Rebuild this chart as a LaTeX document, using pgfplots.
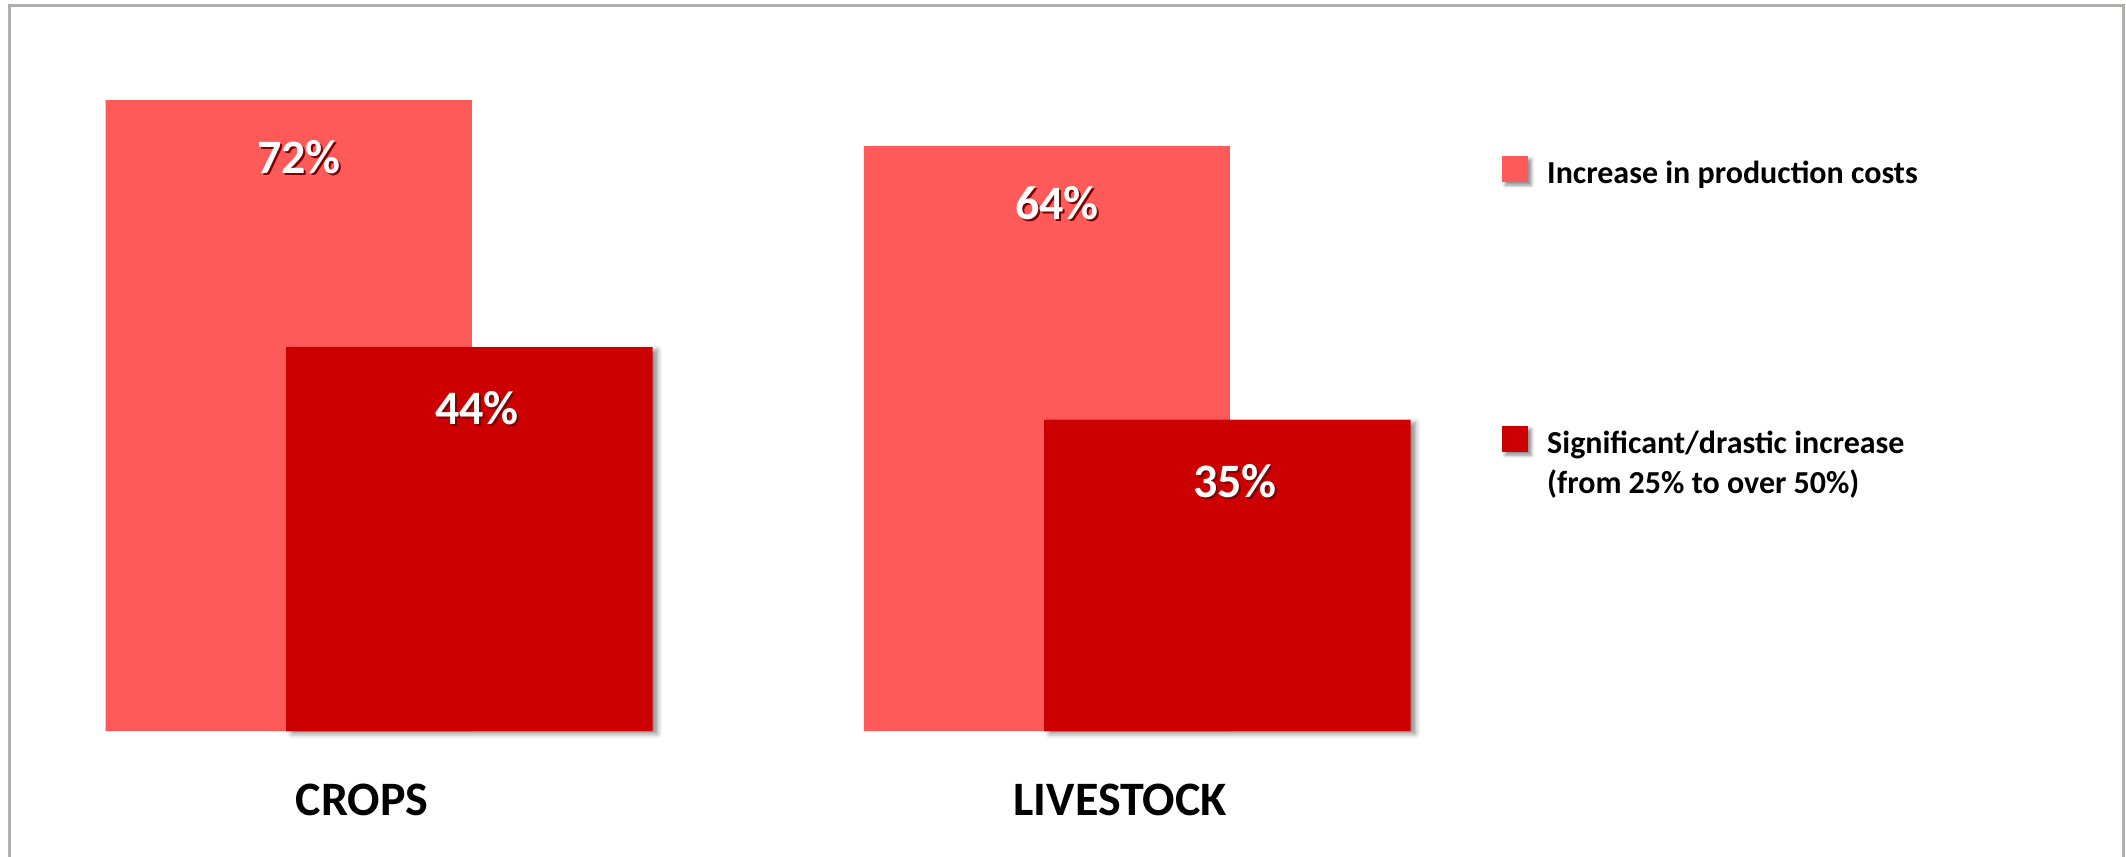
\documentclass[border=0pt]{standalone}
\usepackage{pgfplots}
\pgfplotsset{compat=1.18}
\usepackage{pgfplotstable}
\usepackage{fontspec}
\setmainfont{Carlito}
\usetikzlibrary{shadows.blur}
\definecolor{lightred}{HTML}{FF5A5A}
\definecolor{darkred}{HTML}{CC0000}
\definecolor{bordergray}{HTML}{B0ADAD}
\newcommand\shtext[1]{\leavevmode\rlap{\kern0.5pt\raisebox{-0.5pt}{\textcolor{black!35!darkred}{#1}}}\textcolor{white}{#1}}
\newcommand\lstrut{\rule[-3pt]{0pt}{10pt}}

% x: 0 = CROPS, 1 = LIVESTOCK; y = drawn bar height; label = printed value
\pgfplotstableread{
x y label
0 72 72
1 66.75 64
}\costs
\pgfplotstableread{
x y label
0 43.8 44
1 35.5 35
}\signif

\begin{document}
\begin{tikzpicture}
\useasboundingbox (0,0) rectangle (531.5pt,214pt);
\begin{axis}[
  at={(0,0)}, anchor=south west,
  scale only axis, width=531.5pt, height=214pt,
  xmin=-0.5, xmax=2.3047, ymin=-14.26, ymax=83.41,
  axis line style={draw=none}, major tick style={draw=none},
  ytick=\empty,
  xtick={0,1}, xticklabels={CROPS,LIVESTOCK},
  xticklabel style={anchor=center, yshift=14pt, xshift=-4.2pt,
    font=\fontsize{12}{14}\selectfont\bfseries},
  clip=false,
  legend cell align=left,
  legend style={at={(0.7065,0.8178)}, anchor=north west, draw=none, fill=none,
    inner sep=0pt, outer sep=0pt, row sep=0pt, column sep=4.8pt,
    font=\fontsize{8}{10}\selectfont\bfseries,
    cells={anchor=base west},
    nodes={inner sep=0pt, text depth=}},
  nodes near coords style={font=\fontsize{12}{14}\selectfont\bfseries},
]
\addplot[ybar, bar width=0.483, bar shift=-0.119, fill=lightred, draw=none,
  point meta=explicit symbolic,
  nodes near coords={\shtext{\pgfplotspointmeta\%}},
  every node near coord/.append style={anchor=center, yshift=-14.5pt, xshift=-20pt},
  legend image code/.code={\fill[lightred, blur shadow={shadow xshift=0.8pt, shadow yshift=-0.8pt, shadow blur radius=0.8pt, shadow opacity=45}] (0pt,0.5pt) rectangle (6.5pt,7pt);}]
  table[x=x, y=y, meta=label]{\costs};
\addlegendentry{\lstrut Increase in production costs\rule[-60.5pt]{0pt}{0pt}}
\addplot[ybar, bar width=0.483, bar shift=0.119, fill=darkred, draw=none, forget plot,
  blur shadow={shadow xshift=1.3pt, shadow yshift=-0.7pt, shadow blur radius=1.2pt, shadow opacity=45}]
  table[x=x, y=y]{\signif};
\addplot[ybar, bar width=0.483, bar shift=0.119, fill=darkred, draw=none,
  point meta=explicit symbolic,
  nodes near coords={\shtext{\pgfplotspointmeta\%}},
  every node near coord/.append style={anchor=center, yshift=-15.5pt, xshift=24.5pt},
  legend image code/.code={\fill[darkred, blur shadow={shadow xshift=0.8pt, shadow yshift=-0.8pt, shadow blur radius=0.8pt, shadow opacity=45}] (0pt,0.5pt) rectangle (6.5pt,7pt);}]
  table[x=x, y=y, meta=label]{\signif};
\addlegendentry{\lstrut Significant/drastic increase}
\addlegendimage{empty legend}
\addlegendentry{\lstrut (from 25\% to over 50\%)}
\end{axis}
\draw[bordergray, line width=0.75pt] (2.4pt,-2pt) -- (2.4pt,212.6pt) -- (530.9pt,212.6pt) -- (530.9pt,-2pt);
\end{tikzpicture}
\end{document}
